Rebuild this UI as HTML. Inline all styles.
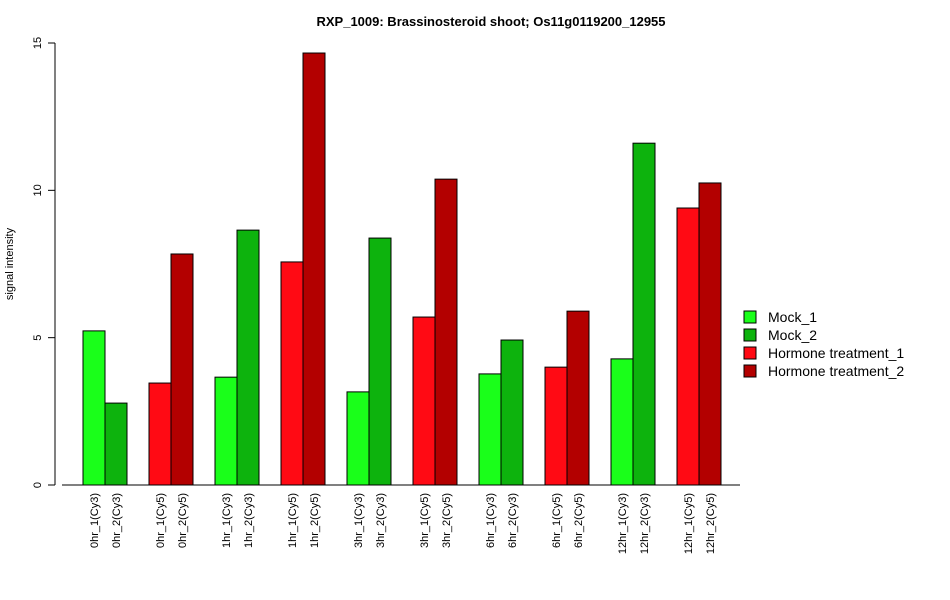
<!DOCTYPE html>
<html><head><meta charset="utf-8"><style>
body{margin:0;background:#fff;}
svg{display:block;font-family:"Liberation Sans",Arial,sans-serif;}
</style></head><body>
<svg id="chart" width="950" height="600">
<text x="491" y="26" text-anchor="middle" font-size="13" font-weight="bold">RXP_1009: Brassinosteroid shoot; Os11g0119200_12955</text>
<text transform="translate(13,264) rotate(-90)" text-anchor="middle" font-size="11">signal intensity</text>
<g id="yaxis"></g>
<g id="bars"></g>
<g id="xlabels"></g>
<line x1="62" y1="485" x2="740" y2="485" stroke="#000"/>
<g font-size="14">
<g><rect x="744" y="311" width="12" height="12" fill="#1aff1a" stroke="#000"/><text x="768" y="322">Mock_1</text></g>
<g><rect x="744" y="329" width="12" height="12" fill="#0db30d" stroke="#000"/><text x="768" y="340">Mock_2</text></g>
<g><rect x="744" y="347" width="12" height="12" fill="#ff0a14" stroke="#000"/><text x="768" y="358">Hormone treatment_1</text></g>
<g><rect x="744" y="365" width="12" height="12" fill="#b30000" stroke="#000"/><text x="768" y="376">Hormone treatment_2</text></g>
</g>
</svg>
<script>
const categories=["0hr_1(Cy3)","0hr_2(Cy3)","0hr_1(Cy5)","0hr_2(Cy5)","1hr_1(Cy3)","1hr_2(Cy3)","1hr_1(Cy5)","1hr_2(Cy5)","3hr_1(Cy3)","3hr_2(Cy3)","3hr_1(Cy5)","3hr_2(Cy5)","6hr_1(Cy3)","6hr_2(Cy3)","6hr_1(Cy5)","6hr_2(Cy5)","12hr_1(Cy3)","12hr_2(Cy3)","12hr_1(Cy5)","12hr_2(Cy5)"];
const values=[5.23,2.78,3.46,7.84,3.66,8.65,7.57,14.66,3.16,8.38,5.70,10.38,3.77,4.92,4.00,5.90,4.28,11.6,9.40,10.25];
const groups=[0,1,2,3,0,1,2,3,0,1,2,3,0,1,2,3,0,1,2,3];
const colors=["#1aff1a","#0db30d","#ff0a14","#b30000"];
const yTicks=[0,5,10,15];
const NS="http://www.w3.org/2000/svg";
const y=v=>485-v*(442/15);
const x=i=>83+Math.floor(i/2)*66+(i%2)*22;
const bars=document.getElementById('bars'),xl=document.getElementById('xlabels'),ya=document.getElementById('yaxis');
values.forEach((v,i)=>{
 const r=document.createElementNS(NS,'rect');
 
 
 r.setAttribute('x',x(i));r.setAttribute('y',y(v));r.setAttribute('width',22);r.setAttribute('height',485-y(v));
 r.setAttribute('fill',colors[groups[i]]);r.setAttribute('stroke','#000');
 bars.appendChild(r);
 const t=document.createElementNS(NS,'text');
 
 
 t.setAttribute('transform','translate('+(x(i)+15)+',493) rotate(-90)');
 t.setAttribute('text-anchor','end');t.setAttribute('font-size','11');
 t.textContent=categories[i];xl.appendChild(t);
});
const al=document.createElementNS(NS,'line');


al.setAttribute('x1',55);al.setAttribute('x2',55);al.setAttribute('y1',y(0));al.setAttribute('y2',y(15));al.setAttribute('stroke','#000');ya.appendChild(al);
yTicks.forEach(v=>{
 const l=document.createElementNS(NS,'line');
 
 
 l.setAttribute('x1',48);l.setAttribute('x2',55);l.setAttribute('y1',y(v));l.setAttribute('y2',y(v));l.setAttribute('stroke','#000');ya.appendChild(l);
 const t=document.createElementNS(NS,'text');
 
 
 t.setAttribute('transform','translate(41,'+y(v)+') rotate(-90)');
 t.setAttribute('text-anchor','middle');t.setAttribute('font-size','11');
 t.textContent=v;ya.appendChild(t);
});
</script>
</body></html>
